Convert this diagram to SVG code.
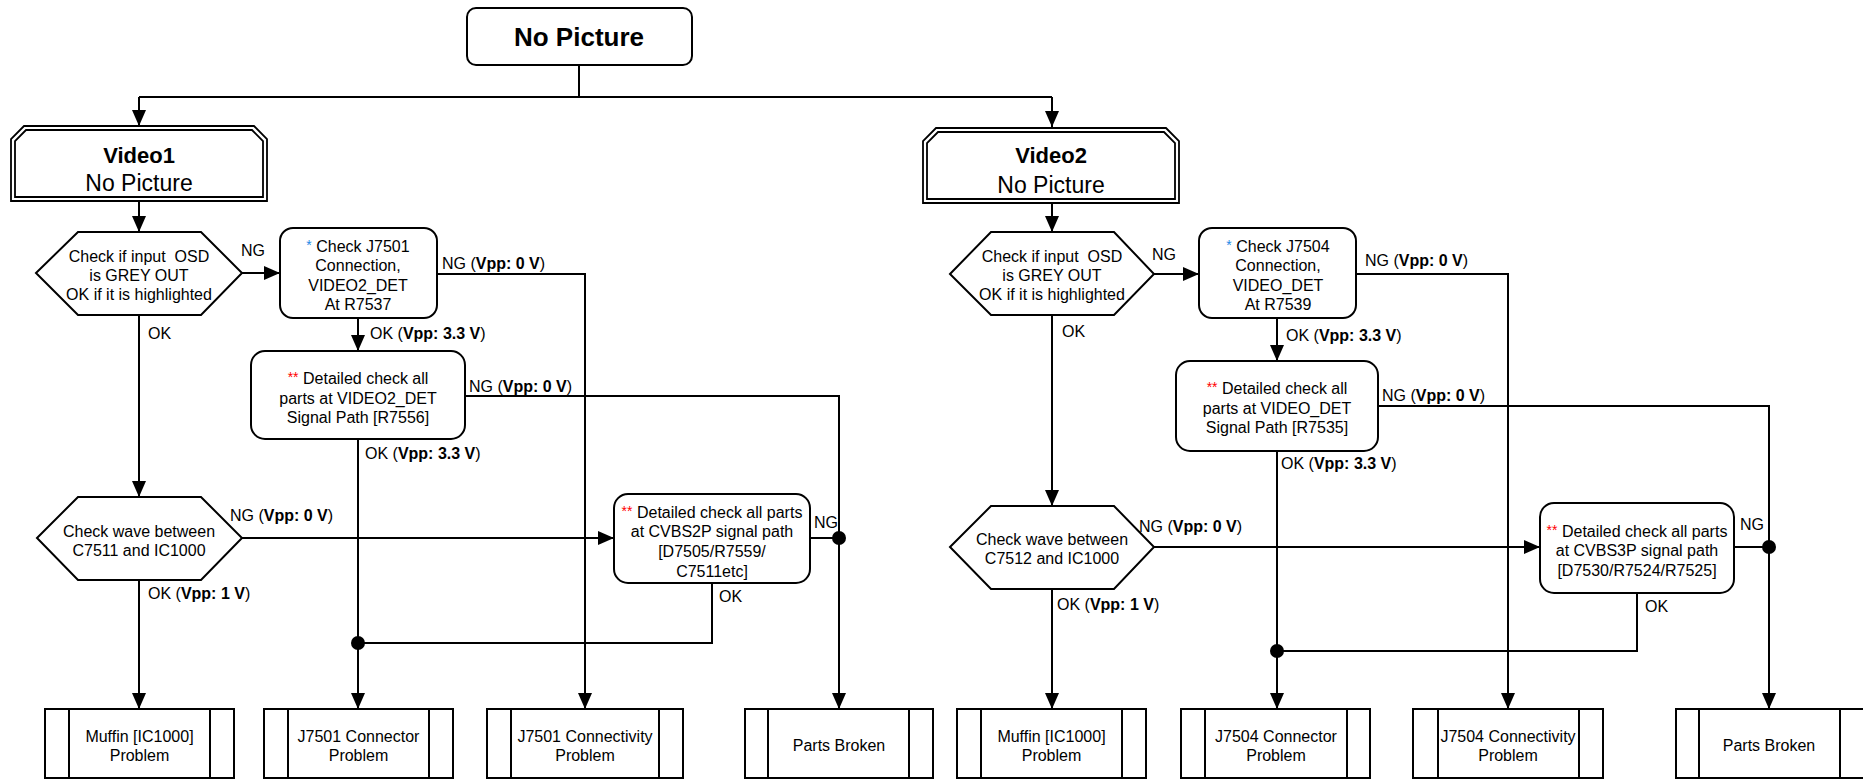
<svg xmlns="http://www.w3.org/2000/svg" width="1863" height="779" viewBox="0 0 1863 779">
<style>
.n{fill:#fff;stroke:#000;stroke-width:2}
.d{fill:none;stroke:#000;stroke-width:1.8}
.l{fill:none;stroke:#000;stroke-width:2}
.t{font-family:"Liberation Sans",Arial,Helvetica,sans-serif;font-size:16px;fill:#000}
.c{text-anchor:middle}
.b{font-weight:bold}
.pre{white-space:pre}
.bs{fill:#1e88e5;font-size:14px}
.rs{fill:#ff0000;font-size:14px}
</style>
<defs>
<marker id="ah" markerUnits="userSpaceOnUse" markerWidth="16" markerHeight="14" refX="16" refY="7" orient="auto"><path d="M0,0 L16,7 L0,14 Z" fill="#000"/></marker>
</defs>
<rect width="1863" height="779" fill="#fff"/>

<g id="connectors">
<path class="l" d="M579,65 V97 M139,97 H1052"/>
<path class="l" d="M139,97 V126" marker-end="url(#ah)"/>
<path class="l" d="M1052,97 V127" marker-end="url(#ah)"/>
<path class="l" d="M139,201 V232" marker-end="url(#ah)"/>
<path class="l" d="M1052,203 V232" marker-end="url(#ah)"/>
<!-- left -->
<path class="l" d="M242,273 H280" marker-end="url(#ah)"/>
<path class="l" d="M437,274 H585 V709" marker-end="url(#ah)"/>
<path class="l" d="M358,318 V351" marker-end="url(#ah)"/>
<path class="l" d="M465,396 H839 V709" marker-end="url(#ah)"/>
<path class="l" d="M358,439 V709" marker-end="url(#ah)"/>
<path class="l" d="M139,315 V497" marker-end="url(#ah)"/>
<path class="l" d="M242,538 H614" marker-end="url(#ah)"/>
<path class="l" d="M810,538 H839"/>
<path class="l" d="M712,583 V643 H358"/>
<path class="l" d="M139,580 V709" marker-end="url(#ah)"/>
<circle cx="839" cy="538" r="7" fill="#000"/>
<circle cx="358" cy="643" r="7" fill="#000"/>
<!-- right -->
<path class="l" d="M1154,274 H1199" marker-end="url(#ah)"/>
<path class="l" d="M1356,274 H1508 V709" marker-end="url(#ah)"/>
<path class="l" d="M1277,318 V361" marker-end="url(#ah)"/>
<path class="l" d="M1378,406 H1769 V709" marker-end="url(#ah)"/>
<path class="l" d="M1277,451 V709" marker-end="url(#ah)"/>
<path class="l" d="M1052,315 V506" marker-end="url(#ah)"/>
<path class="l" d="M1154,547 H1540" marker-end="url(#ah)"/>
<path class="l" d="M1734,547 H1769"/>
<path class="l" d="M1637,593 V651 H1277"/>
<path class="l" d="M1052,589 V709" marker-end="url(#ah)"/>
<circle cx="1769" cy="547" r="7" fill="#000"/>
<circle cx="1277" cy="651" r="7" fill="#000"/>
<!-- labels -->
<g class="t">
<text x="241" y="256">NG</text>
<text x="442" y="269">NG (<tspan class="b">Vpp: 0 V</tspan>)</text>
<text x="148" y="339">OK</text>
<text x="370" y="339">OK (<tspan class="b">Vpp: 3.3 V</tspan>)</text>
<text x="469" y="392">NG (<tspan class="b">Vpp: 0 V</tspan>)</text>
<text x="365" y="459">OK (<tspan class="b">Vpp: 3.3 V</tspan>)</text>
<text x="230" y="521">NG (<tspan class="b">Vpp: 0 V</tspan>)</text>
<text x="814" y="528">NG</text>
<text x="148" y="599">OK (<tspan class="b">Vpp: 1 V</tspan>)</text>
<text x="719" y="602">OK</text>
<text x="1152" y="260">NG</text>
<text x="1365" y="266">NG (<tspan class="b">Vpp: 0 V</tspan>)</text>
<text x="1062" y="337">OK</text>
<text x="1286" y="341">OK (<tspan class="b">Vpp: 3.3 V</tspan>)</text>
<text x="1382" y="401">NG (<tspan class="b">Vpp: 0 V</tspan>)</text>
<text x="1281" y="469">OK (<tspan class="b">Vpp: 3.3 V</tspan>)</text>
<text x="1139" y="532">NG (<tspan class="b">Vpp: 0 V</tspan>)</text>
<text x="1740" y="530">NG</text>
<text x="1057" y="610">OK (<tspan class="b">Vpp: 1 V</tspan>)</text>
<text x="1645" y="612">OK</text>
</g>
</g>

<g id="top">
<rect class="n" x="467" y="8" width="225" height="57" rx="9"/>
<text class="t c b" x="579" y="46" style="font-size:26px">No Picture</text>
</g>

<g id="video1">
<path class="d" d="M11,201 V139 L24,126 H254 L267,139 V201 Z"/>
<path class="d" d="M15,197 V141 L26,130 H252 L263,141 V197 Z"/>
<text class="t c b" x="139" y="163" style="font-size:22px">Video1</text>
<text class="t c" x="139" y="191" style="font-size:23px">No Picture</text>
</g>

<g id="video2">
<path class="d" d="M923,203 V141 L936,128 H1166 L1179,141 V203 Z"/>
<path class="d" d="M927,199 V143 L938,132 H1164 L1175,143 V199 Z"/>
<text class="t c b" x="1051" y="163" style="font-size:22px">Video2</text>
<text class="t c" x="1051" y="193" style="font-size:23px">No Picture</text>
</g>

<g id="hex1">
<polygon class="n" points="36,273 78,232 201,232 242,273 201,315 78,315"/>
<text class="t c pre" x="139" y="262">Check if input  OSD</text>
<text class="t c" x="139" y="281">is GREY OUT</text>
<text class="t c" x="139" y="300">OK if it is highlighted</text>
</g>

<g id="j7501">
<rect class="n" x="280" y="228" width="157" height="90" rx="13"/>
<text class="t c" x="358" y="252"><tspan class="bs" dy="-2">*</tspan><tspan dy="2"> Check J7501</tspan></text>
<text class="t c" x="358" y="271">Connection,</text>
<text class="t c" x="358" y="291">VIDEO2_DET</text>
<text class="t c" x="358" y="310">At R7537</text>
</g>

<g id="det1">
<rect class="n" x="251" y="351" width="214" height="88" rx="14"/>
<text class="t c" x="358" y="384"><tspan class="rs" dy="-2">**</tspan><tspan dy="2"> Detailed check all</tspan></text>
<text class="t c" x="358" y="404">parts at VIDEO2_DET</text>
<text class="t c" x="358" y="423">Signal Path [R7556]</text>
</g>

<g id="hex2">
<polygon class="n" points="37,538 78,497 201,497 242,538 201,580 78,580"/>
<text class="t c" x="139" y="537">Check wave between</text>
<text class="t c" x="139" y="556">C7511 and IC1000</text>
</g>

<g id="det2">
<rect class="n" x="614" y="494" width="196" height="89" rx="14"/>
<text class="t c" x="712" y="518"><tspan class="rs" dy="-2">**</tspan><tspan dy="2"> Detailed check all parts</tspan></text>
<text class="t c" x="712" y="537">at CVBS2P signal path</text>
<text class="t c" x="712" y="557">[D7505/R7559/</text>
<text class="t c" x="712" y="577">C7511etc]</text>
</g>

<g id="hex3">
<polygon class="n" points="950,274 991,232 1114,232 1154,274 1114,315 991,315"/>
<text class="t c pre" x="1052" y="262">Check if input  OSD</text>
<text class="t c" x="1052" y="281">is GREY OUT</text>
<text class="t c" x="1052" y="300">OK if it is highlighted</text>
</g>

<g id="j7504">
<rect class="n" x="1199" y="228" width="157" height="90" rx="13"/>
<text class="t c" x="1278" y="252"><tspan class="bs" dy="-2">*</tspan><tspan dy="2"> Check J7504</tspan></text>
<text class="t c" x="1278" y="271">Connection,</text>
<text class="t c" x="1278" y="291">VIDEO_DET</text>
<text class="t c" x="1278" y="310">At R7539</text>
</g>

<g id="det3">
<rect class="n" x="1176" y="361" width="202" height="90" rx="14"/>
<text class="t c" x="1277" y="394"><tspan class="rs" dy="-2">**</tspan><tspan dy="2"> Detailed check all</tspan></text>
<text class="t c" x="1277" y="414">parts at VIDEO_DET</text>
<text class="t c" x="1277" y="433">Signal Path [R7535]</text>
</g>

<g id="hex4">
<polygon class="n" points="950,547 991,506 1114,506 1154,547 1114,589 991,589"/>
<text class="t c" x="1052" y="545">Check wave between</text>
<text class="t c" x="1052" y="564">C7512 and IC1000</text>
</g>

<g id="det4">
<rect class="n" x="1540" y="503" width="194" height="90" rx="14"/>
<text class="t c" x="1637" y="537"><tspan class="rs" dy="-2">**</tspan><tspan dy="2"> Detailed check all parts</tspan></text>
<text class="t c" x="1637" y="556">at CVBS3P signal path</text>
<text class="t c" x="1637" y="576">[D7530/R7524/R7525]</text>
</g>

<g id="muffin1">
<rect class="n" x="45" y="709" width="189" height="69"/>
<path class="l" d="M69,709 V778 M210,709 V778"/>
<text class="t c" x="139.5" y="742">Muffin [IC1000]</text>
<text class="t c" x="139.5" y="761">Problem</text>
</g>
<g id="conn1">
<rect class="n" x="264" y="709" width="189" height="69"/>
<path class="l" d="M288,709 V778 M429,709 V778"/>
<text class="t c" x="358.5" y="742">J7501 Connector</text>
<text class="t c" x="358.5" y="761">Problem</text>
</g>
<g id="connectivity1">
<rect class="n" x="487" y="709" width="196" height="69"/>
<path class="l" d="M511,709 V778 M659,709 V778"/>
<text class="t c" x="585" y="742">J7501 Connectivity</text>
<text class="t c" x="585" y="761">Problem</text>
</g>
<g id="broken1">
<rect class="n" x="745" y="709" width="188" height="69"/>
<path class="l" d="M768,709 V778 M909,709 V778"/>
<text class="t c" x="839" y="751">Parts Broken</text>
</g>
<g id="muffin2">
<rect class="n" x="957" y="709" width="189" height="69"/>
<path class="l" d="M981,709 V778 M1122,709 V778"/>
<text class="t c" x="1051.5" y="742">Muffin [IC1000]</text>
<text class="t c" x="1051.5" y="761">Problem</text>
</g>
<g id="conn2">
<rect class="n" x="1181" y="709" width="189" height="69"/>
<path class="l" d="M1205,709 V778 M1347,709 V778"/>
<text class="t c" x="1276" y="742">J7504 Connector</text>
<text class="t c" x="1276" y="761">Problem</text>
</g>
<g id="connectivity2">
<rect class="n" x="1413" y="709" width="190" height="69"/>
<path class="l" d="M1438,709 V778 M1579,709 V778"/>
<text class="t c" x="1508" y="742">J7504 Connectivity</text>
<text class="t c" x="1508" y="761">Problem</text>
</g>
<g id="broken2">
<rect class="n" x="1676" y="709" width="190" height="69"/>
<path class="l" d="M1699,709 V778 M1840,709 V778"/>
<text class="t c" x="1769" y="751">Parts Broken</text>
</g>
</svg>
